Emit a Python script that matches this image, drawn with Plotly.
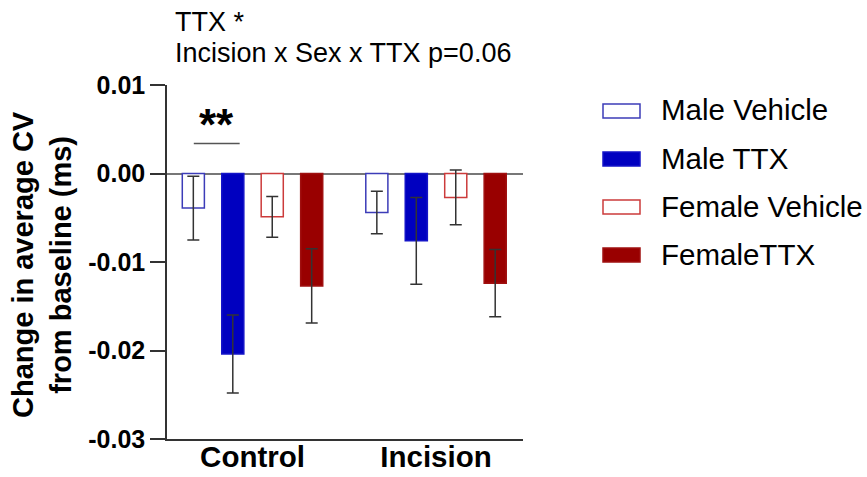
import plotly.graph_objects as go

# Groups and series
groups = ["Control", "Incision"]
series_names = ["Male Vehicle", "Male TTX", "Female Vehicle", "FemaleTTX"]

# Mean change in average CV from baseline (ms)
male_vehicle = [-0.0039, -0.0044]
male_ttx = [-0.0204, -0.0076]
female_vehicle = [-0.0049, -0.0027]
female_ttx = [-0.0127, -0.0124]

# Standard error of the mean
male_vehicle_sem = [0.0036, 0.0024]
male_ttx_sem = [0.0044, 0.0049]
female_vehicle_sem = [0.0023, 0.0031]
female_ttx_sem = [0.0042, 0.0038]

# Y-axis ticks
y_tick_values = [0.01, 0.0, -0.01, -0.02, -0.03]
y_tick_labels = ["0.01", "0.00", "-0.01", "-0.02", "-0.03"]

# Significance bracket (Control: Male Vehicle vs Male TTX)
sig_label = "**"
sig_level = 0.0034

means = [male_vehicle, male_ttx, female_vehicle, female_ttx]
sems = [male_vehicle_sem, male_ttx_sem, female_vehicle_sem, female_ttx_sem]
fills = ["white", "#0000c0", "white", "#990000"]
edges = ["#3c3cb8", "#1414c8", "#cc3b3b", "#a01010"]

FONT = "Arial, Liberation Sans, sans-serif"

fig = go.Figure()
for name, m, s, fc, ec in zip(series_names, means, sems, fills, edges):
    fig.add_trace(go.Bar(
        x=groups, y=m, name=name,
        marker=dict(color=fc, line=dict(color=ec, width=1.5)),
        error_y=dict(type="data", array=s, symmetric=True,
                     color="#333333", thickness=1.5, width=6),
        showlegend=False,
    ))

# Plot-area geometry in pixels (used to place legend and notes)
L, R, T, B = 167, 344, 85, 38
W, H = 867, 477
pw, ph = W - L - R, H - T - B


def px_x(px):
    return (px - L) / pw


def px_y(py):
    return (H - B - py) / ph


annotations = [
    dict(text="TTX *", x=px_x(173), y=px_y(22), xref="paper", yref="paper",
         xanchor="left", yanchor="middle", showarrow=False,
         font=dict(family=FONT, size=27, color="black")),
    dict(text="Incision x Sex x TTX p=0.06", x=px_x(173), y=px_y(53),
         xref="paper", yref="paper", xanchor="left", yanchor="middle",
         showarrow=False, font=dict(family=FONT, size=27, color="black")),
    dict(text="Change in average CV<br>from baseline (ms)", x=px_x(42),
         y=px_y(264), xref="paper", yref="paper", xanchor="center",
         yanchor="middle", textangle=-90, showarrow=False,
         font=dict(family=FONT, size=29, color="black", weight="bold")),
    dict(text=sig_label, x=-0.196, y=sig_level, xref="x", yref="y",
         xanchor="center", yanchor="bottom", yshift=-8, showarrow=False,
         font=dict(family=FONT, size=44, color="black", weight="bold")),
]

shapes = [
    dict(type="line", xref="x", yref="y", x0=-0.32, x1=-0.07,
         y0=sig_level, y1=sig_level, line=dict(color="#555555", width=1.5)),
]

# Custom legend with wide bar swatches
row_y = [111, 159, 207, 255]
for name, fc, ec, py in zip(series_names, fills, edges, row_y):
    shapes.append(dict(type="rect", xref="paper", yref="paper",
                       x0=px_x(603), x1=px_x(640), y0=px_y(py + 7), y1=px_y(py - 7),
                       fillcolor=fc, line=dict(color=ec, width=1.5)))
    annotations.append(dict(text=name, x=px_x(659), y=px_y(py - 1), xref="paper",
                            yref="paper", xanchor="left", yanchor="middle",
                            showarrow=False,
                            font=dict(family=FONT, size=29.5, color="black")))

fig.update_layout(
    width=W, height=H,
    margin=dict(l=L, r=R, t=T, b=B, pad=0, autoexpand=False),
    paper_bgcolor="white", plot_bgcolor="white",
    barmode="group", bargap=0.14, bargroupgap=0.44,
    font=dict(family=FONT, color="black"),
    annotations=annotations, shapes=shapes,
    showlegend=False,
)
fig.update_xaxes(
    range=[-0.466, 1.474], showline=True, linecolor="#333333", linewidth=1.5,
    ticks="", showgrid=False, zeroline=False, automargin=False,
    ticklabelstandoff=-9,
    tickfont=dict(family=FONT, size=29.5, color="black", weight="bold"),
)
fig.update_yaxes(
    range=[-0.03, 0.01], tickvals=y_tick_values, ticktext=y_tick_labels,
    showline=True, linecolor="#333333", linewidth=1.5,
    ticks="outside", ticklen=15, tickwidth=1.5, tickcolor="#333333",
    showgrid=False, zeroline=True, zerolinecolor="#777777", zerolinewidth=1.5,
    automargin=False,
    tickfont=dict(family=FONT, size=25, color="black", weight="bold"),
)

fig.write_html("out.html")
